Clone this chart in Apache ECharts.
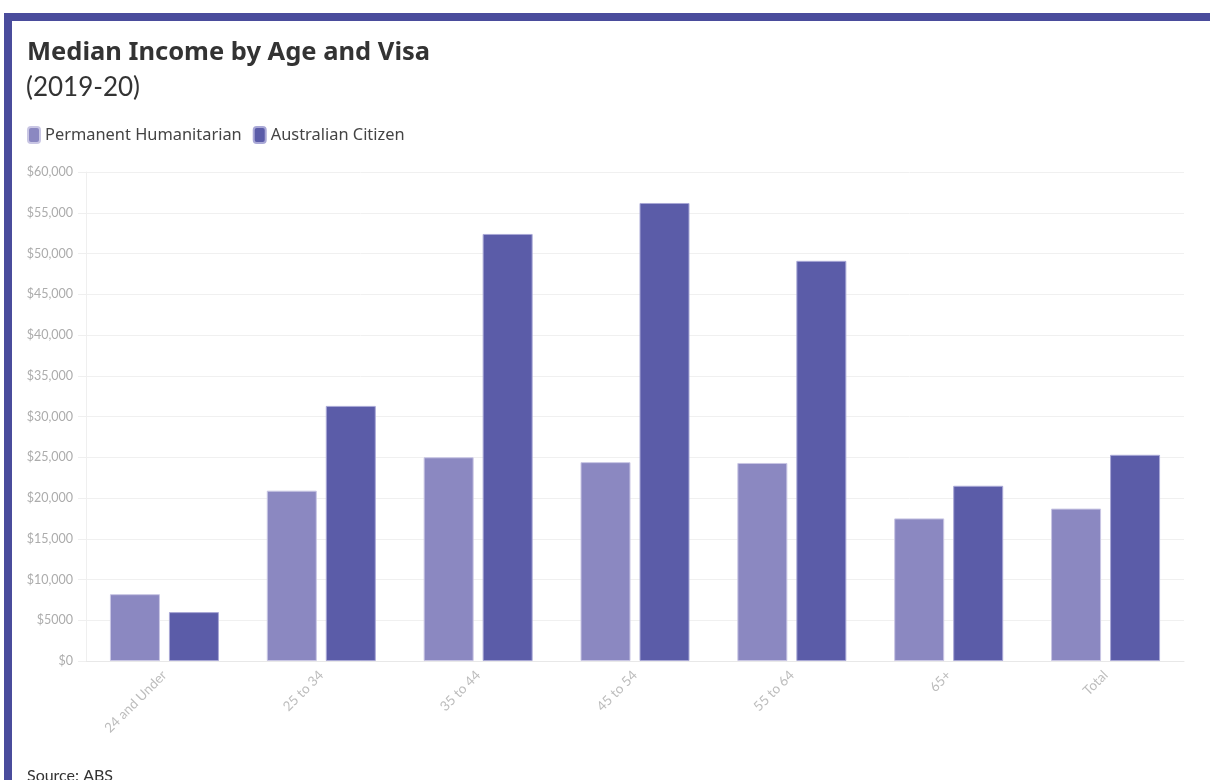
<!DOCTYPE html>
<html>
<head>
<meta charset="utf-8">
<title>Median Income by Age and Visa</title>
<script src="https://cdn.jsdelivr.net/npm/echarts@6/dist/echarts.min.js"></script>
<style>
  html, body { margin: 0; padding: 0; background: #fff; overflow: hidden; }
  #frame {
    position: absolute; left: 4px; top: 13px; width: 1206px; height: 767px;
    border-top: 8px solid #4a4c9c; border-left: 8px solid #4a4c9c;
    box-sizing: border-box;
  }
  #chart { position: absolute; left: 0; top: 0; width: 1210px; height: 780px; }
</style>
</head>
<body>
<div id="frame"></div>
<div id="chart"></div>
<script>
// 数据
const ageGroups = ['24 and Under', '25 to 34', '35 to 44', '45 to 54', '55 to 64', '65+', 'Total'];
const humanitarian = [8200, 20900, 25000, 24400, 24300, 17500, 18700];
const citizen = [6000, 31300, 52400, 56200, 49100, 21500, 25300];
const yTickLabels = ['$0', '$5000', '$10,000', '$15,000', '$20,000', '$25,000', '$30,000',
  '$35,000', '$40,000', '$45,000', '$50,000', '$55,000', '$60,000'];

const FONT = 'Lato, "Noto Sans", sans-serif';
const WIDE = '"Noto Sans", Lato, sans-serif';

const chart = echarts.init(document.getElementById('chart'));

const option = {
  backgroundColor: 'transparent',
  animation: false,
  textStyle: { fontFamily: FONT },
  title: [
    {
      text: 'Median Income by Age and Visa',
      left: 22, top: 35,
      textStyle: { fontSize: 25.5, fontWeight: 'bold', color: '#333', fontFamily: WIDE },
    },
    {
      text: '(2019-20)',
      left: 21, top: 70,
      textStyle: { fontSize: 26, fontWeight: 'normal', color: '#333', fontFamily: FONT },
    },
    {
      text: 'Source: ABS',
      left: 22, top: 763,
      textStyle: { fontSize: 16, fontWeight: 'normal', color: '#333', fontFamily: FONT },
    },
  ],
  legend: {
    data: ['Permanent Humanitarian', 'Australian Citizen'],
    left: 22, top: 121,
    icon: 'roundRect',
    itemWidth: 12, itemHeight: 16, itemGap: 11,
    textStyle: { fontSize: 16.4, color: '#444', fontFamily: WIDE },
  },
  grid: { left: 86, right: 26, top: 172, bottom: 119 },
  xAxis: {
    type: 'category',
    data: ageGroups,
    axisLine: { lineStyle: { color: '#e8e8e8' } },
    axisTick: { alignWithLabel: true, length: 6, lineStyle: { color: '#e8e8e8' } },
    axisLabel: { rotate: 45, color: '#bdbdbd', fontSize: 13.5, margin: 12, fontFamily: FONT },
  },
  yAxis: {
    type: 'value',
    min: 0, max: 60000, interval: 5000,
    axisLine: { show: true, lineStyle: { color: '#efefef' } },
    axisTick: { show: true, length: 8, lineStyle: { color: '#efefef' } },
    axisLabel: {
      color: '#acacac', fontSize: 12.5, margin: 13, fontFamily: FONT,
      formatter: v => yTickLabels[Math.round(v / 5000)],
    },
    splitLine: { lineStyle: { color: '#f0f0f0' } },
  },
  series: [
    {
      name: 'Permanent Humanitarian',
      type: 'bar',
      data: humanitarian,
      barWidth: 50,
      barGap: '18%',
      color: '#8480c0',
      itemStyle: { color: '#8b88c1', borderColor: '#c9c6e4', borderWidth: 1 },
    },
    {
      name: 'Australian Citizen',
      type: 'bar',
      data: citizen,
      barWidth: 50,
      color: '#4a4c9c',
      itemStyle: { color: '#5b5ca8', borderColor: '#a9a8d6', borderWidth: 1 },
    },
  ],
};

chart.setOption(option);
</script>
</body>
</html>
